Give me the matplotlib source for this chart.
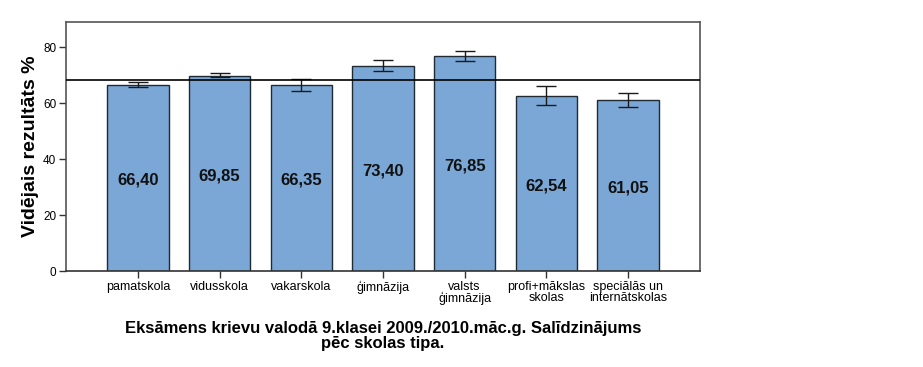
import matplotlib.pyplot as plt
import numpy as np

plt.rcParams['font.family'] = ['Liberation Sans', 'DejaVu Sans']

# dati
skolas = ['pamatskola', 'vidusskola', 'vakarskola', 'ģimnāzija',
          'valsts\nģimnāzija', 'profi+mākslas\nskolas', 'speciālās un\ninternātskolas']
videjais = [66.40, 69.85, 66.35, 73.40, 76.85, 62.54, 61.05]
kluda_aug = [67.4, 70.8, 68.5, 75.4, 78.7, 66.0, 63.7]
kluda_lej = [65.6, 69.2, 64.5, 71.5, 75.2, 59.3, 58.6]
videjais_kopa = 68.2

fig = plt.figure(figsize=(9.23, 3.67), dpi=100)
ax = fig.add_axes([66 / 923, 1 - 271 / 367, 634 / 923, 249 / 367])

x = np.arange(len(skolas))
ax.bar(x, videjais, width=0.75, color='#7aa7d6', edgecolor='#1f2a33', linewidth=1.0, zorder=2)

yerr = [np.array(videjais) - np.array(kluda_lej), np.array(kluda_aug) - np.array(videjais)]
ax.errorbar(x, videjais, yerr=yerr, fmt='none', ecolor='#1a1a1a', elinewidth=1.0,
            capsize=7.5, capthick=1.0, zorder=3)

ax.axhline(videjais_kopa, color='black', linewidth=1.2, zorder=4)

for xi, v in zip(x, videjais):
    ax.text(xi, v / 2 - 0.8, f'{v:.2f}'.replace('.', ','), ha='center', va='center',
            fontsize=12, fontweight='bold', color='#111111', zorder=5)

ax.set_xlim(-0.88, 6.88)
ax.set_ylim(0, 89)
ax.set_yticks([0, 20, 40, 60, 80])
ax.set_xticks(x)
ax.set_xticklabels(skolas, fontsize=9, linespacing=0.95)
ax.tick_params(axis='both', direction='out', length=5, width=1, color='#333333')
ax.tick_params(axis='y', labelsize=8.5, pad=2)
ax.tick_params(axis='x', pad=2)

for s in ax.spines.values():
    s.set_color('#555555')
    s.set_linewidth(1.2)
ax.spines['bottom'].set_color('#333333')

ax.set_ylabel('Vidējais rezultāts %', fontsize=14, fontweight='bold', labelpad=3)

fig.text(383 / 923, 1 - 336 / 367,
         'Eksāmens krievu valodā 9.klasei 2009./2010.māc.g. Salīdzinājums\npēc skolas tipa.',
         ha='center', va='center', fontsize=12, fontweight='bold', linespacing=1.0)

plt.savefig('out.png', dpi=100)
